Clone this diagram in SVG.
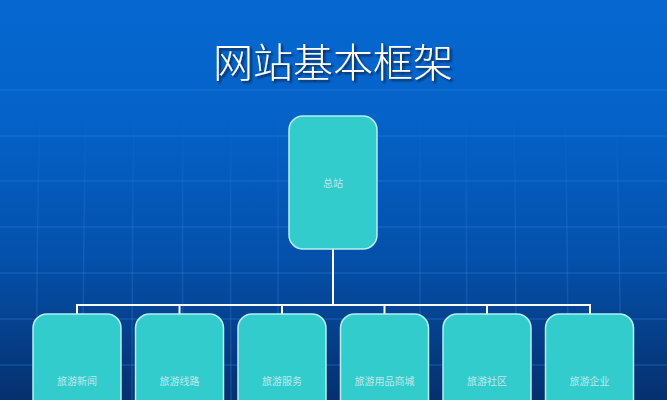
<svg xmlns="http://www.w3.org/2000/svg" width="667" height="400" viewBox="0 0 667 400">
<defs>
<linearGradient id="bg" x1="0" y1="0" x2="0" y2="1">
<stop offset="0" stop-color="#0568d0"/>
<stop offset="0.3" stop-color="#0562c8"/>
<stop offset="0.65" stop-color="#0450aa"/>
<stop offset="1" stop-color="#06306e"/>
</linearGradient>
<linearGradient id="vfade" gradientUnits="userSpaceOnUse" x1="0" y1="110" x2="0" y2="400">
<stop offset="0" stop-color="#3a8ae8" stop-opacity="0"/>
<stop offset="0.35" stop-color="#3a8ae8" stop-opacity="0.2"/>
<stop offset="1" stop-color="#3a8ae8" stop-opacity="0.3"/>
</linearGradient>
<filter id="sh" x="-10%" y="-20%" width="120%" height="150%">
<feDropShadow dx="2" dy="2" stdDeviation="0.8" flood-color="#0a1a40" flood-opacity="0.9"/>
</filter>
</defs>
<style>
.node rect{fill:#33cccc;stroke:#b8eef0;stroke-width:1.5}
.lbl{font-family:"Liberation Serif","Noto Sans CJK SC",serif;font-size:10px;fill:#bfe8ec;text-anchor:middle}
.hl{stroke:#2f7ee0;stroke-opacity:0.35;stroke-width:1.5}
.vl{stroke:url(#vfade);stroke-width:1.5;fill:none}
.conn{stroke:#ffffff;stroke-width:2;fill:none}
</style>
<rect width="667" height="400" fill="url(#bg)"/>
<g id="grid">
<line class="hl" x1="0" y1="90" x2="667" y2="90" stroke-opacity="0.08"/>
<line class="hl" x1="0" y1="136" x2="667" y2="136" stroke-opacity="0.2"/>
<line class="hl" x1="0" y1="181" x2="667" y2="181"/>
<line class="hl" x1="0" y1="227" x2="667" y2="227"/>
<line class="hl" x1="0" y1="273" x2="667" y2="273"/>
<line class="hl" x1="0" y1="319" x2="667" y2="319"/>
<line class="hl" x1="0" y1="365" x2="667" y2="365"/>
<path class="vl" d="M40 110 Q36 250 37 400"/>
<path class="vl" d="M86 110 Q83 250 83 400"/>
<path class="vl" d="M134 110 Q132 250 132 400"/>
<path class="vl" d="M183 110 Q182 250 183 400"/>
<path class="vl" d="M231 110 Q230 250 231 400"/>
<path class="vl" d="M278 110 L278 400"/>
<path class="vl" d="M420 110 L420 400"/>
<path class="vl" d="M466 110 Q467 250 467 400"/>
<path class="vl" d="M514 110 Q516 250 516 400"/>
<path class="vl" d="M565 110 Q568 250 568 400"/>
<path class="vl" d="M616 110 Q620 250 621 400"/>
</g>
<text x="333" y="77" font-family="Liberation Serif,'Noto Sans CJK SC',serif" font-size="40" font-weight="300" fill="#ffffff" text-anchor="middle" filter="url(#sh)">网站基本框架</text>
<g id="connectors">
<path class="conn" d="M333 249 V305"/>
<path class="conn" d="M77 314 V305 H590 V314"/>
<path class="conn" d="M179.5 305 V314 M282 305 V314 M384.5 305 V314 M487 305 V314"/>
</g>
<g id="n0" class="node"><rect x="289" y="116" width="88" height="133" rx="14"/><text class="lbl" x="333" y="187">总站</text></g>
<g id="n1" class="node"><rect x="33" y="314" width="88" height="110" rx="14"/><text class="lbl" x="77" y="385">旅游新闻</text></g>
<g id="n2" class="node"><rect x="135.5" y="314" width="88" height="110" rx="14"/><text class="lbl" x="179.5" y="385">旅游线路</text></g>
<g id="n3" class="node"><rect x="238" y="314" width="88" height="110" rx="14"/><text class="lbl" x="282" y="385">旅游服务</text></g>
<g id="n4" class="node"><rect x="340.5" y="314" width="88" height="110" rx="14"/><text class="lbl" x="384.5" y="385">旅游用品商城</text></g>
<g id="n5" class="node"><rect x="443" y="314" width="88" height="110" rx="14"/><text class="lbl" x="487" y="385">旅游社区</text></g>
<g id="n6" class="node"><rect x="545.5" y="314" width="88" height="110" rx="14"/><text class="lbl" x="589.5" y="385">旅游企业</text></g>
</svg>
